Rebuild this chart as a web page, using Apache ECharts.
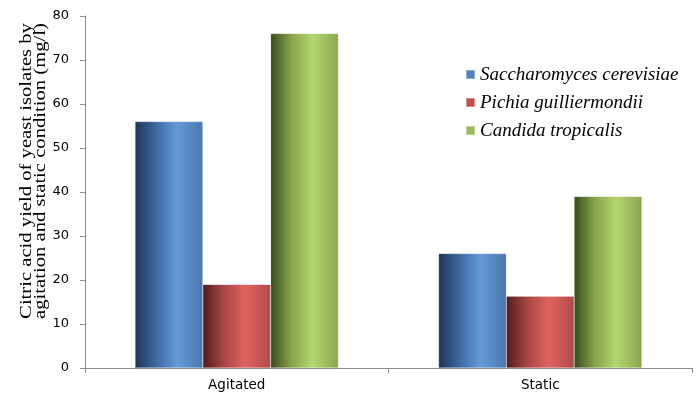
<!DOCTYPE html>
<html>
<head>
<meta charset="utf-8">
<script src="https://cdn.jsdelivr.net/npm/echarts@6/dist/echarts.min.js"></script>
<style>html,body{margin:0;padding:0;background:#fff}#c{width:700px;height:395px}</style>
</head>
<body>
<div id="c"></div>
<script>
var categories = ['Agitated', 'Static'];
var seriesNames = ['Saccharomyces cerevisiae', 'Pichia guilliermondii', 'Candida tropicalis'];
var saccharomyces = [56, 26];
var pichia = [19, 16.3];
var candida = [76, 39];
var yTicks = [0, 10, 20, 30, 40, 50, 60, 70, 80];
var yTitle = 'Citric acid yield of yeast isolates by\nagitation and static condition (mg/l)';

var flat = ['#4F81BD', '#C0504D', '#9BBB59'];
var grads = [
  ['#1E3556', '#3D679E', '#659AD8', '#4A77AE'],
  ['#4E1C1B', '#A44644', '#E0625F', '#B04B49'],
  ['#3A4A1E', '#86A24B', '#B4D66E', '#8AA650']
];
function cyl(c) {
  return new echarts.graphic.LinearGradient(0, 0, 1, 0, [
    {offset: 0, color: c[0]},
    {offset: 0.3, color: c[1]},
    {offset: 0.62, color: c[2]},
    {offset: 1, color: c[3]}
  ]);
}
var values = [saccharomyces, pichia, candida];
var chart = echarts.init(document.getElementById('c'), null, {renderer: 'canvas'});
chart.setOption({
  animation: false,
  backgroundColor: '#fff',
  grid: {left: 85, right: 8, top: 16, bottom: 27, containLabel: false, outerBoundsMode: 'none'},
  legend: {
    orient: 'vertical',
    left: 460,
    top: 60,
    itemGap: 9,
    itemWidth: 9,
    itemHeight: 9,
    icon: 'rect',
    textStyle: {fontFamily: 'Liberation Serif', fontStyle: 'italic', fontSize: 19, color: '#000'},
    data: seriesNames.map(function (n, i) { return {name: n, itemStyle: {color: flat[i]}}; })
  },
  graphic: [{
    type: 'text',
    x: 34, y: 171,
    rotation: Math.PI / 2,
    scaleX: 1.29,
    style: {
      text: yTitle,
      fontFamily: 'Liberation Serif',
      fontSize: 16,
      lineHeight: 14,
      fill: '#000',
      align: 'center',
      verticalAlign: 'middle'
    }
  }],
  xAxis: {
    type: 'category',
    data: categories,
    axisLine: {lineStyle: {color: '#8c8c8c'}},
    axisTick: {show: true, length: 5, lineStyle: {color: '#8c8c8c'}},
    axisLabel: {fontFamily: 'DejaVu Sans', fontSize: 13.5, color: '#000', margin: 10}
  },
  yAxis: {
    type: 'value',
    min: 0, max: 80, interval: 10,
    splitLine: {show: false},
    axisLine: {show: true, lineStyle: {color: '#8c8c8c'}},
    axisTick: {show: true, length: 5, lineStyle: {color: '#8c8c8c'}},
    axisLabel: {fontFamily: 'DejaVu Sans', fontSize: 13, color: '#000', margin: 16,
      formatter: function (v) { return yTicks.indexOf(v) >= 0 ? String(v) : ''; }}
  },
  series: seriesNames.map(function (n, i) {
    return {
      name: n,
      type: 'bar',
      data: values[i],
      barGap: '0%',
      barCategoryGap: '33%',
      itemStyle: {color: cyl(grads[i]), borderColor: 'rgba(255,255,255,0.35)', borderWidth: 0.5}
    };
  })
});
</script>
</body>
</html>
